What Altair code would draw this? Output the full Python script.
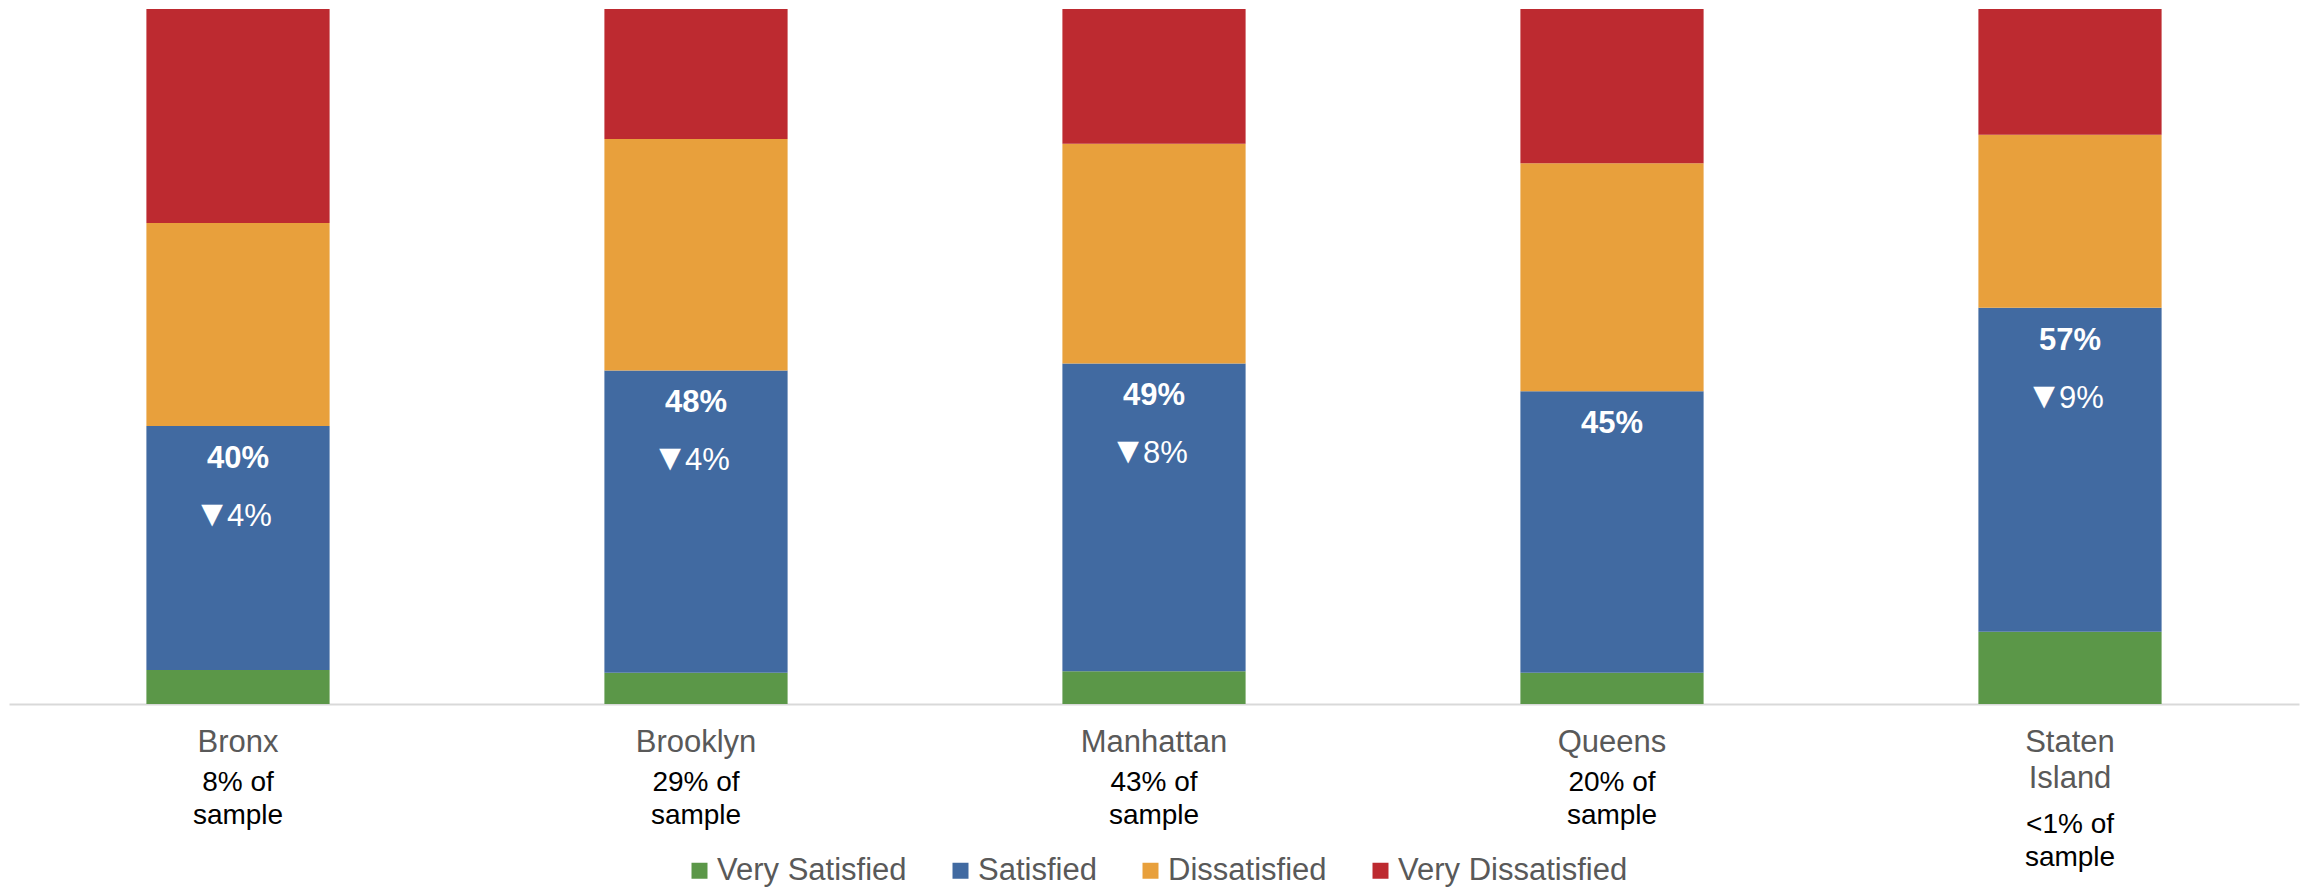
import altair as alt
import pandas as pd

# Borough survey results (percent of respondents in each satisfaction level)
boroughs = ["Bronx", "Brooklyn", "Manhattan", "Queens", "Staten Island"]
very_satisfied = [4.9, 4.5, 4.7, 4.5, 10.4]
satisfied = [35.1, 43.5, 44.3, 40.5, 46.6]
dissatisfied = [29.2, 33.3, 31.6, 32.8, 24.9]
very_dissatisfied = [30.8, 18.7, 19.4, 22.2, 18.1]

# Change in total satisfaction and each borough's share of the sample
change_labels = ["▼4%", "▼4%", "▼8%", "", "▼9%"]
sample_share = ["8% of\nsample", "29% of\nsample", "43% of\nsample",
                "20% of\nsample", "<1% of\nsample"]

levels = ["Very Satisfied", "Satisfied", "Dissatisfied", "Very Dissatisfied"]
colors = ["#5B9748", "#416AA1", "#E8A03C", "#BD2A30"]

FONT = "Liberation Sans"

series = [very_satisfied, satisfied, dissatisfied, very_dissatisfied]
rows = []
for i, b in enumerate(boroughs):
    for k, (lvl, vals) in enumerate(zip(levels, series)):
        rows.append({"borough": b, "level": lvl, "share": vals[i], "rank": k})
bars_df = pd.DataFrame(rows)

labels_df = pd.DataFrame({
    "borough": boroughs,
    "sat_total": [round(a + b) for a, b in zip(very_satisfied, satisfied)],
    "change": change_labels,
    "sample": sample_share,
})
labels_df["sat_label"] = labels_df["sat_total"].astype(str) + "%"

x_enc = alt.X(
    "borough:N",
    sort=boroughs,
    scale=alt.Scale(paddingInner=0.6, paddingOuter=0.3),
    axis=alt.Axis(
        title=None, ticks=False, grid=False, labelAngle=0,
        domainColor="#D9D9D9", domainWidth=2,
        labelFont=FONT, labelFontSize=31, labelColor="#595959",
        labelPadding=23, labelLineHeight=36,
        labelExpr="datum.value == 'Staten Island' ? ['Staten', 'Island'] : datum.value",
    ),
)
x_plain = alt.X("borough:N", sort=boroughs)
y_scale = alt.Scale(domain=[0, 100], nice=False)

bars = alt.Chart(bars_df).mark_bar().encode(
    x=x_enc,
    y=alt.Y("share:Q", stack="zero", scale=y_scale, axis=None),
    color=alt.Color(
        "level:N",
        scale=alt.Scale(domain=levels, range=colors),
        legend=alt.Legend(
            orient="none", legendX=675, legendY=846, direction="horizontal",
            title=None, symbolType="square", symbolSize=256,
            symbolStrokeWidth=0, labelFont=FONT, labelFontSize=31,
            labelColor="#595959", labelOffset=2, columnPadding=38,
            padding=0, labelLimit=0,
        ),
    ),
    order=alt.Order("rank:Q", sort="ascending"),
)

# Combined satisfaction (very satisfied + satisfied), bold, near the top of the blue segment
sat_text = alt.Chart(labels_df).mark_text(
    font=FONT, fontSize=31, fontWeight="bold", color="white",
    baseline="alphabetic", dy=42,
).encode(
    x=x_plain,
    y=alt.Y("sat_total:Q", scale=y_scale),
    text="sat_label:N",
)

# Change indicator: triangle glyph and the number beside it
change_df = alt.Chart(labels_df).transform_filter(
    "datum.change != ''"
).transform_calculate(
    arrow="substring(datum.change, 0, 1)",
    amount="substring(datum.change, 1)",
)

arrow_text = change_df.mark_text(
    font=FONT, fontSize=37, color="white", baseline="alphabetic",
    align="center", dx=-26, dy=100,
).encode(
    x=x_plain,
    y=alt.Y("sat_total:Q", scale=y_scale),
    text="arrow:N",
)

amount_text = change_df.mark_text(
    font=FONT, fontSize=31, color="white", baseline="alphabetic",
    align="left", dx=-11, dy=100,
).encode(
    x=x_plain,
    y=alt.Y("sat_total:Q", scale=y_scale),
    text="amount:N",
)

sample_style = dict(font=FONT, fontSize=28, color="black",
                    baseline="alphabetic", lineBreak="\n", lineHeight=33)

sample_text = alt.Chart(labels_df).transform_filter(
    "datum.borough != 'Staten Island'"
).mark_text(**sample_style).encode(
    x=x_plain,
    y=alt.value(782),
    text="sample:N",
)

sample_text_si = alt.Chart(labels_df).transform_filter(
    "datum.borough == 'Staten Island'"
).mark_text(**sample_style).encode(
    x=x_plain,
    y=alt.value(824),
    text="sample:N",
)

chart = alt.layer(
    bars, sat_text, arrow_text, amount_text, sample_text, sample_text_si
).properties(
    width=2290,
    height=695,
    autosize=alt.AutoSizeParams(type="none"),
    padding={"left": 9, "top": 9, "right": 6, "bottom": 184},
    background="white",
).configure_view(stroke=None)

chart.save("out.html", embed_options={"renderer": "svg", "actions": False})
